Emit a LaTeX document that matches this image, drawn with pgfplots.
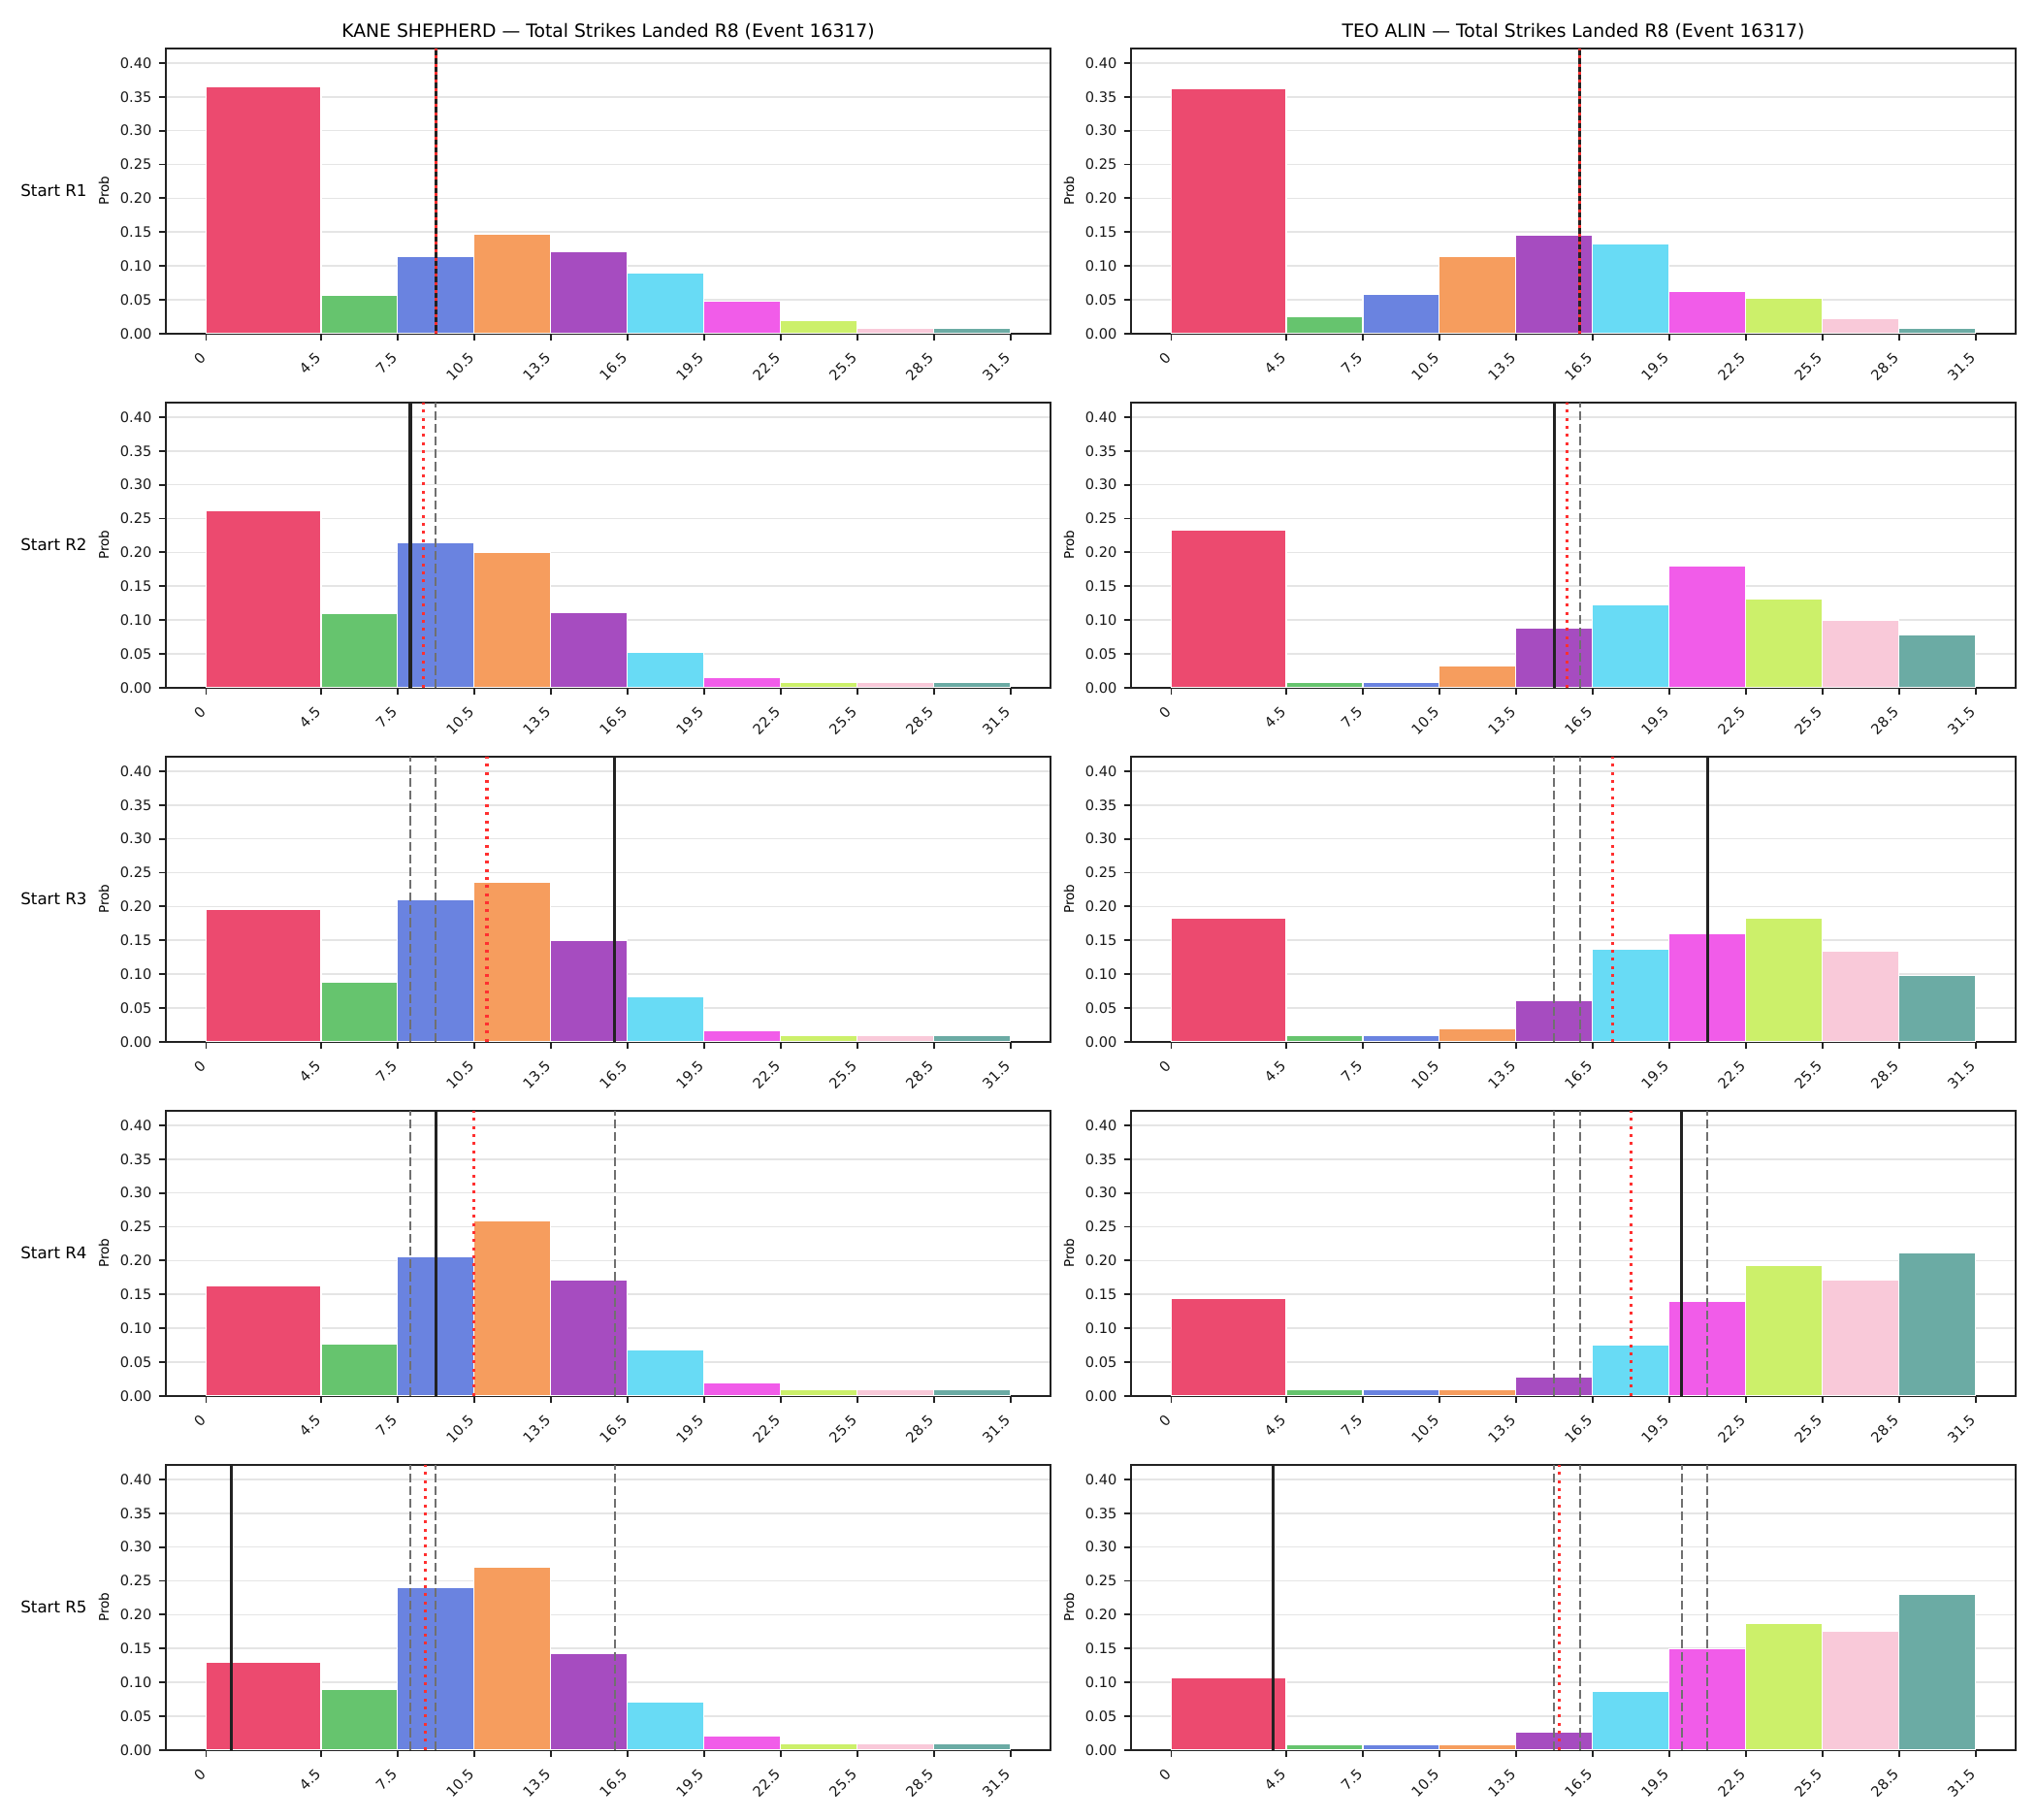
\documentclass[border=0pt]{standalone}
\usepackage{fontspec}
\setmainfont{DejaVu Sans}
\usepackage{pgfplots}
\pgfplotsset{compat=1.18}

\definecolor{c1}{HTML}{EC4A6F}
\definecolor{c2}{HTML}{66C46E}
\definecolor{c3}{HTML}{6A83E0}
\definecolor{c4}{HTML}{F69D5E}
\definecolor{c5}{HTML}{A64CC0}
\definecolor{c6}{HTML}{68DBF5}
\definecolor{c7}{HTML}{F15CE9}
\definecolor{c8}{HTML}{CCF06A}
\definecolor{c9}{HTML}{F9C9D9}
\definecolor{c10}{HTML}{6BABA4}
\definecolor{dashgray}{HTML}{707070}
\definecolor{dotred}{HTML}{FF3030}
\definecolor{spine}{HTML}{222222}

\newcommand{\B}[4]{\addplot[draw=white, line width=0.6pt, fill=#1] coordinates {(#2,0) (#2,#4) (#3,#4) (#3,0)} \closedcycle;}
\newcommand{\HA}[5]{\B{c1}{0}{4.5}{#1}\B{c2}{4.5}{7.5}{#2}\B{c3}{7.5}{10.5}{#3}\B{c4}{10.5}{13.5}{#4}\B{c5}{13.5}{16.5}{#5}}
\newcommand{\HB}[5]{\B{c6}{16.5}{19.5}{#1}\B{c7}{19.5}{22.5}{#2}\B{c8}{22.5}{25.5}{#3}\B{c9}{25.5}{28.5}{#4}\B{c10}{28.5}{31.5}{#5}}
\newcommand{\VS}[1]{\addplot[color=spine, line width=1.5pt] coordinates {(#1,0) (#1,0.4215)};}
\newcommand{\VD}[1]{\addplot[color=dashgray, line width=1pt, dash pattern=on 4.4pt off 1.9pt] coordinates {(#1,0) (#1,0.4215)};}
\newcommand{\VR}[1]{\addplot[color=dotred, line width=1.5pt, dash pattern=on 1.5pt off 2.5pt] coordinates {(#1,0) (#1,0.4215)};}

\pgfplotsset{
  panel/.style={
    scale only axis, width=437.76pt, height=140.98pt, anchor=south west,
    xmin=-1.575, xmax=33.075, ymin=0, ymax=0.4215,
    axis line style={line width=1pt, color=spine},
    xtick={0,4.5,7.5,10.5,13.5,16.5,19.5,22.5,25.5,28.5,31.5},
    xticklabels={0,4.5,7.5,10.5,13.5,16.5,19.5,22.5,25.5,28.5,31.5},
    ytick={0,0.05,0.1,0.15,0.2,0.25,0.3,0.35,0.4},
    yticklabel style={/pgf/number format/.cd, fixed, fixed zerofill, precision=2},
    /pgf/number format/assume math mode=true,
    tick align=outside, major tick length=3.5pt,
    major tick style={line width=0.9pt, color=spine},
    xtick pos=left, ytick pos=left,
    ymajorgrids, grid style={line width=0.7pt, color=black!10},
    tick label style={font=\fontsize{7}{8}\selectfont, color=black!90},
    xticklabel style={xshift=-3.4pt, yshift=-3.8pt, rotate=45, anchor=north east, inner sep=1pt},
    ylabel={Prob},
    ylabel style={font=\fontsize{6.5}{7}\selectfont, at={(axis description cs:-0.0701,0.5)}, anchor=center},
  }
}

\begin{document}
\begin{tikzpicture}
\path[use as bounding box] (0,0) rectangle (1008pt,900pt);

% ---------- Left column: KANE SHEPHERD ----------
\begin{axis}[panel, at={(82.08pt,735.02pt)}]
\HA{0.3655}{0.0565}{0.114}{0.147}{0.121}
\HB{0.0896}{0.0479}{0.0192}{0.008}{0.008}
\VS{9}
\VR{9}
\end{axis}

\begin{axis}[panel, at={(82.08pt,559.82pt)}]
\HA{0.2616}{0.1092}{0.2141}{0.1998}{0.1107}
\HB{0.0517}{0.0144}{0.0081}{0.0081}{0.0081}
\VD{9}
\VS{8}
\VR{8.5}
\end{axis}

\begin{axis}[panel, at={(82.08pt,384.62pt)}]
\HA{0.1952}{0.0876}{0.2096}{0.2354}{0.1502}
\HB{0.066}{0.0158}{0.0085}{0.0085}{0.0085}
\VD{8}
\VD{9}
\VS{16}
\VR{11}
\end{axis}

\begin{axis}[panel, at={(82.08pt,209.42pt)}]
\HA{0.1622}{0.0761}{0.2062}{0.2584}{0.1708}
\HB{0.0675}{0.0187}{0.0085}{0.0085}{0.0085}
\VD{8}
\VD{16}
\VS{9}
\VR{10.5}
\end{axis}

\begin{axis}[panel, at={(82.08pt,34.22pt)}]
\HA{0.1292}{0.089}{0.2397}{0.2699}{0.1421}
\HB{0.0703}{0.0201}{0.0085}{0.0085}{0.0085}
\VD{8}
\VD{9}
\VD{16}
\VS{1}
\VR{8.6}
\end{axis}

% ---------- Right column: TEO ALIN ----------
\begin{axis}[panel, at={(559.68pt,735.02pt)}]
\HA{0.3617}{0.0254}{0.0584}{0.1145}{0.1447}
\HB{0.1332}{0.0623}{0.0527}{0.0225}{0.008}
\VS{16}
\VR{16}
\end{axis}

\begin{axis}[panel, at={(559.68pt,559.82pt)}]
\HA{0.2335}{0.0081}{0.0081}{0.0325}{0.0885}
\HB{0.123}{0.1804}{0.1316}{0.1}{0.0785}
\VD{16}
\VS{15}
\VR{15.5}
\end{axis}

\begin{axis}[panel, at={(559.68pt,384.62pt)}]
\HA{0.1823}{0.0085}{0.0085}{0.0187}{0.0603}
\HB{0.1364}{0.1593}{0.1823}{0.1335}{0.0976}
\VD{15}
\VD{16}
\VS{21}
\VR{17.3}
\end{axis}

\begin{axis}[panel, at={(559.68pt,209.42pt)}]
\HA{0.1435}{0.0085}{0.0085}{0.0085}{0.0273}
\HB{0.0746}{0.1402}{0.1933}{0.1708}{0.211}
\VD{15}
\VD{16}
\VD{21}
\VS{20}
\VR{18}
\end{axis}

\begin{axis}[panel, at={(559.68pt,34.22pt)}]
\HA{0.1072}{0.0081}{0.0081}{0.0081}{0.0258}
\HB{0.0871}{0.1493}{0.1866}{0.1751}{0.2297}
\VD{15}
\VD{16}
\VD{20}
\VD{21}
\VS{4}
\VR{15.2}
\end{axis}

% ---------- Titles ----------
\begin{scope}[every node/.style={anchor=base, inner sep=0pt, font=\fontsize{9}{11}\selectfont}]
\node at (300.96pt,881.5pt) {KANE SHEPHERD — Total Strikes Landed R8 (Event 16317)};
\node at (778.56pt,881.5pt) {TEO ALIN — Total Strikes Landed R8 (Event 16317)};
\end{scope}

% ---------- Row labels ----------
\begin{scope}[every node/.style={anchor=east, inner sep=0pt, font=\fontsize{8}{9.6}\selectfont}]
\node at (43.2pt,805.51pt) {Start R1};
\node at (43.2pt,630.31pt) {Start R2};
\node at (43.2pt,455.11pt) {Start R3};
\node at (43.2pt,279.91pt) {Start R4};
\node at (43.2pt,104.71pt) {Start R5};
\end{scope}
\end{tikzpicture}
\end{document}
